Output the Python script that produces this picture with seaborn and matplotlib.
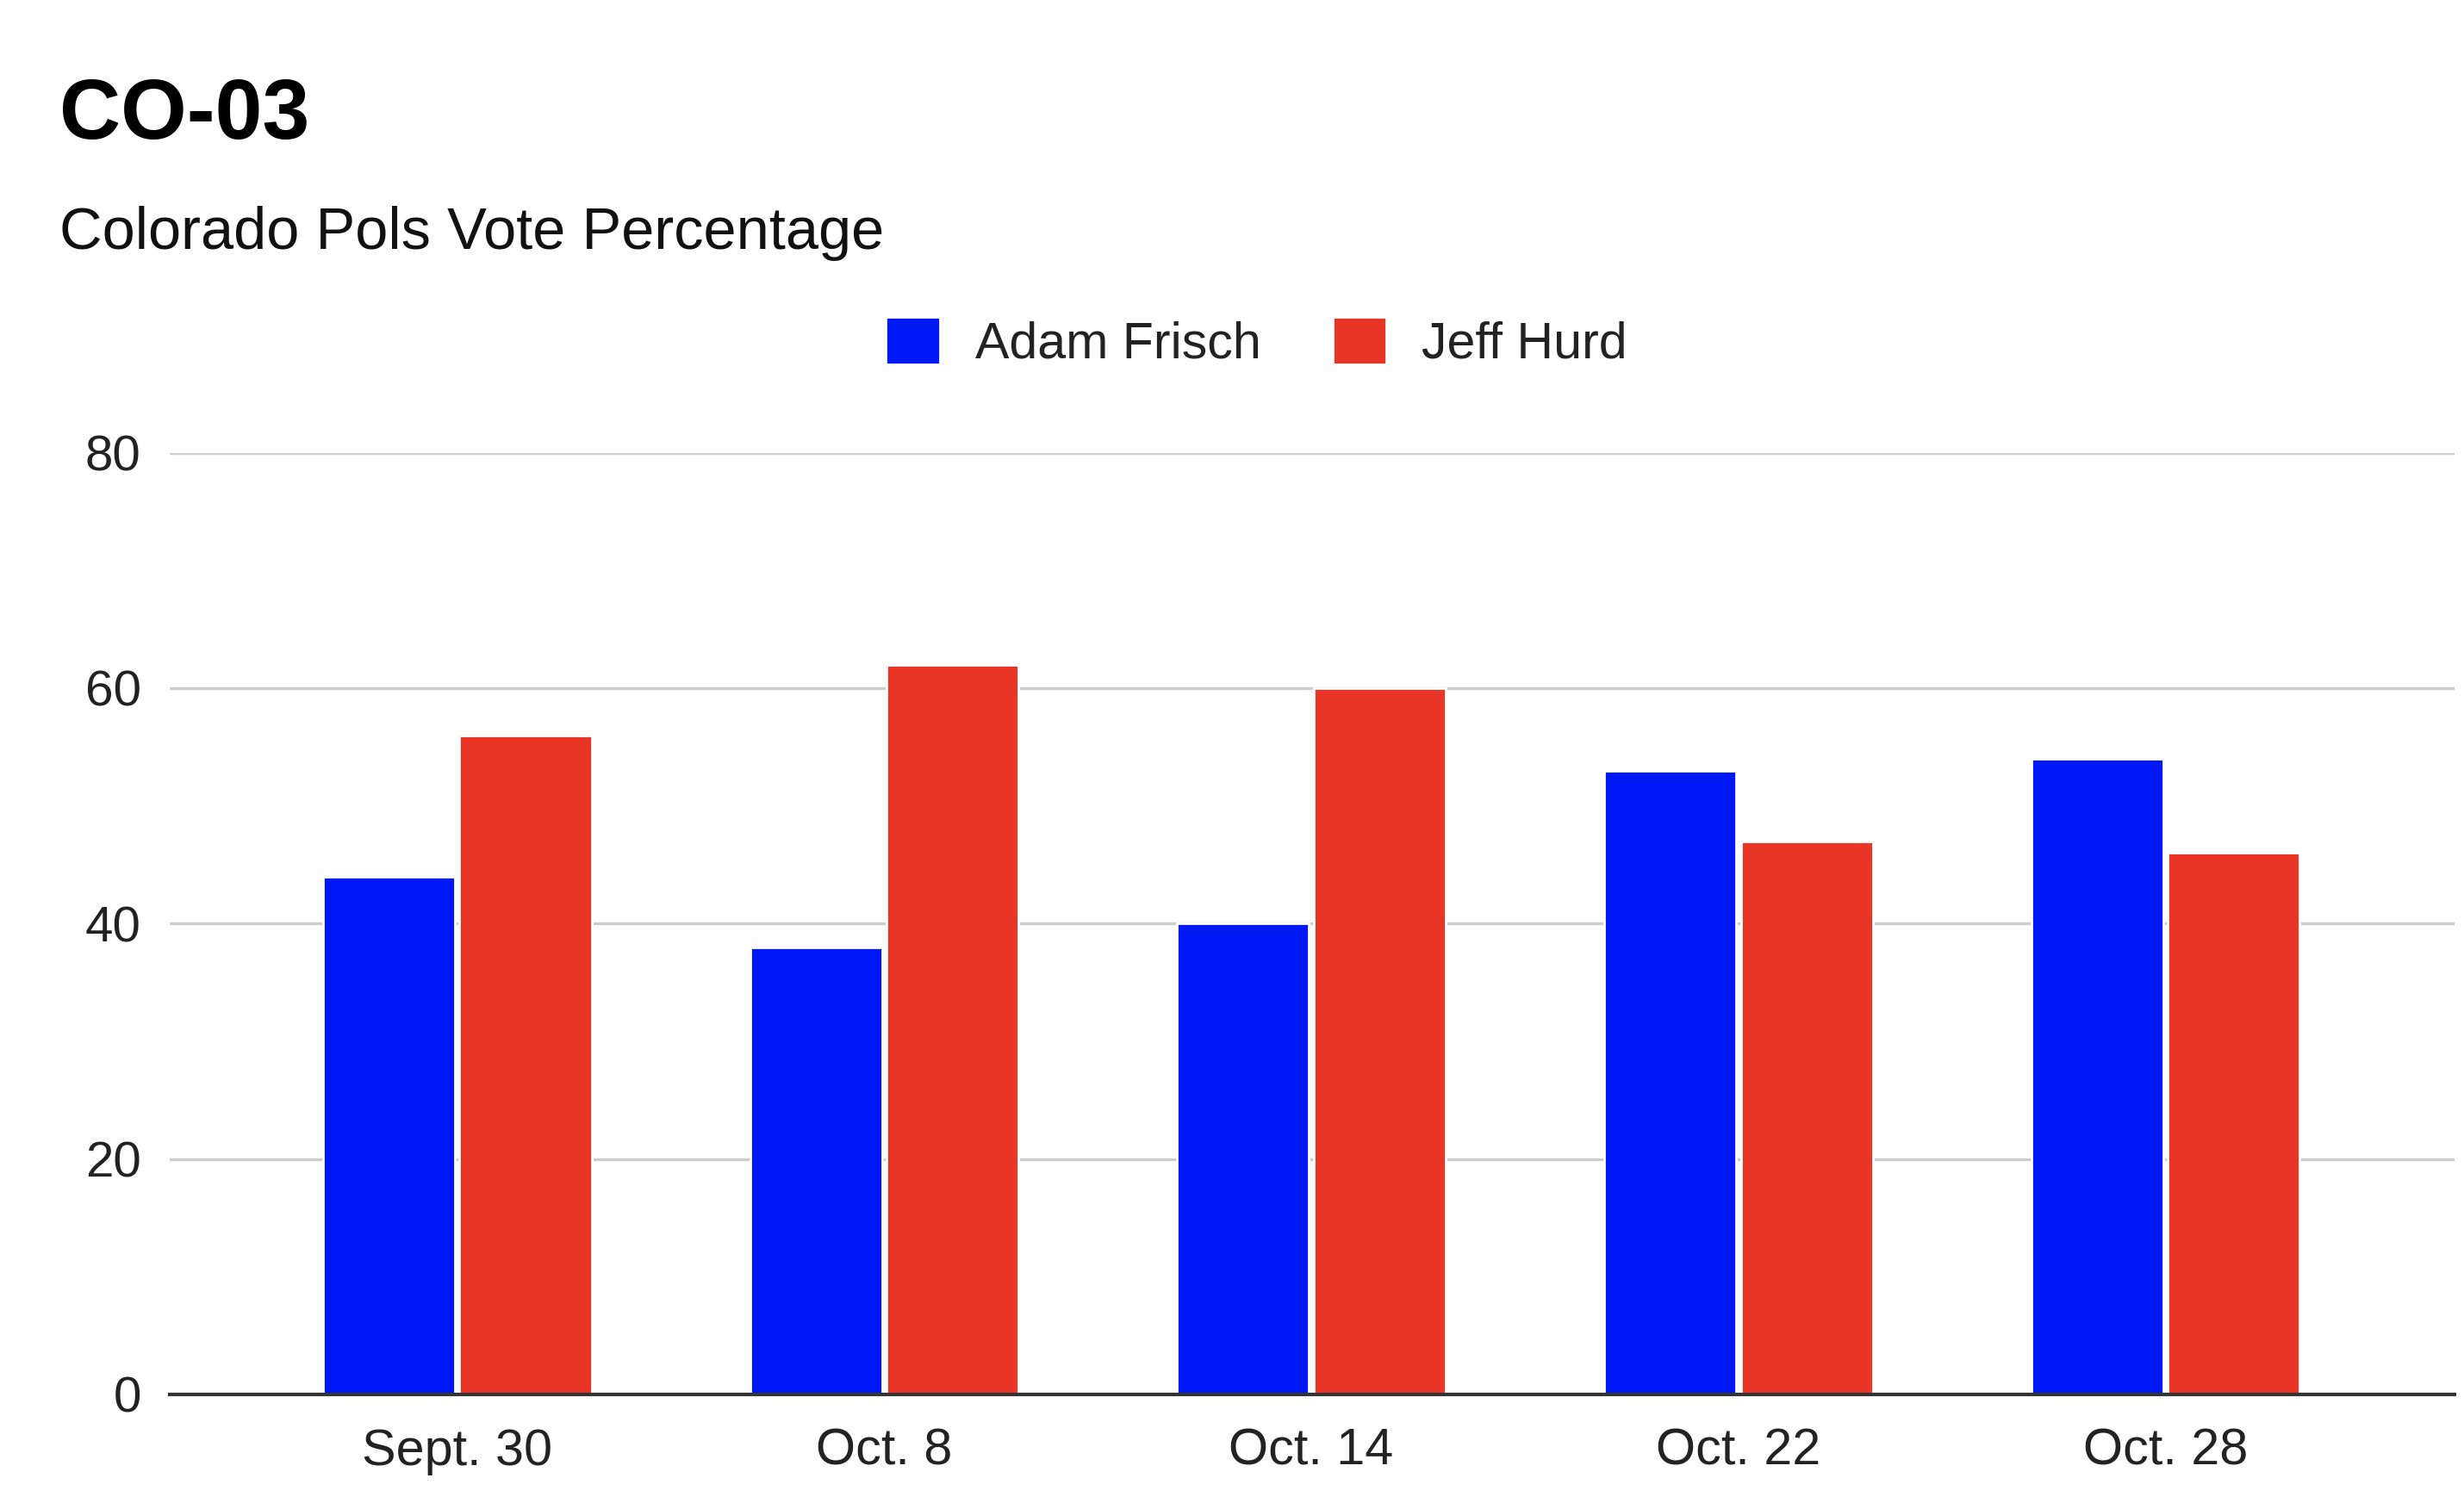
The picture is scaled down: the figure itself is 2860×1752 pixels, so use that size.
import matplotlib
matplotlib.use("Agg")
import matplotlib.pyplot as plt
import numpy as np
import pandas as pd
import seaborn as sns

dates = ["Sept. 30", "Oct. 8", "Oct. 14", "Oct. 22", "Oct. 28"]
frisch = [44, 38, 40, 53, 54]
hurd = [56, 62, 60, 47, 46]
candidates = ["Adam Frisch", "Jeff Hurd"]
colors = ["#0018F5", "#E83526"]


def main():
    df = pd.DataFrame({
        "date": dates * 2,
        "pct": frisch + hurd,
        "who": [candidates[0]] * len(dates) + [candidates[1]] * len(dates),
    })

    sns.set_theme(style="white")
    plt.rcParams["font.family"] = ["Liberation Sans", "DejaVu Sans"]

    fig = plt.figure(figsize=(14.3, 8.76), dpi=200)
    ax = fig.add_axes([0.0689, 0.076, 0.9271, 0.624])

    sns.barplot(data=df, x="date", y="pct", hue="who", order=dates,
                hue_order=candidates, palette=colors, width=0.64, gap=0.035,
                saturation=1, ax=ax, legend=True)

    ax.set_ylim(0, 80)
    ax.set_xlim(-0.673, 4.676)
    ax.set_yticks([0, 20, 40, 60, 80])
    ax.set_xlabel("")
    ax.set_ylabel("")
    ax.yaxis.grid(True, color="#cccccc", lw=1.2)
    ax.set_axisbelow(True)
    for s in ["top", "right", "left"]:
        ax.spines[s].set_visible(False)
    ax.spines["bottom"].set_color("#333333")
    ax.spines["bottom"].set_linewidth(1.5)
    ax.spines["bottom"].set_zorder(5)
    ax.tick_params(axis="y", length=0, pad=12, labelsize=21, labelcolor="#222222")
    ax.tick_params(axis="x", length=0, pad=14, labelsize=21.4, labelcolor="#222222")

    handles, labels = ax.get_legend_handles_labels()
    ax.get_legend().remove()
    fig.legend(handles, labels, loc="center", bbox_to_anchor=(0.510, 0.773),
               ncol=2, frameon=False, fontsize=21.3, handlelength=1.05,
               handleheight=1.05, handletextpad=0.7, columnspacing=1.4,
               labelcolor="#222222")

    fig.text(0.0242, 0.908, "CO-03", fontsize=35.5, fontweight="bold",
             va="baseline", ha="left", color="black")
    fig.text(0.0242, 0.835, "Colorado Pols Vote Percentage", fontsize=24.7,
             va="baseline", ha="left", color="#111111")

    fig.savefig("out.png", dpi=200)


if __name__ == "__main__":
    main()
